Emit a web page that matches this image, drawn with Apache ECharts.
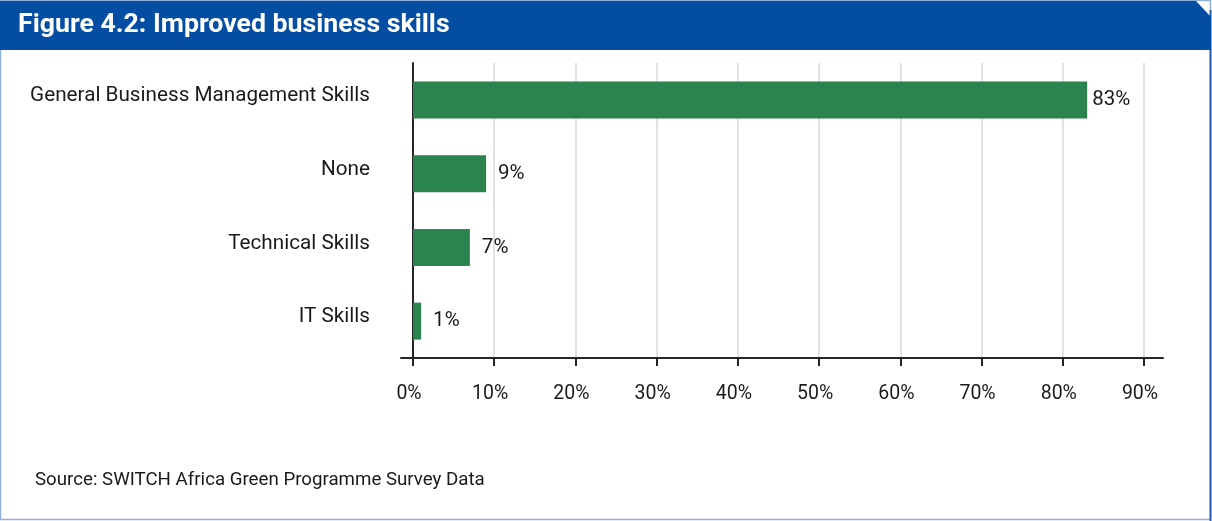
<!DOCTYPE html>
<html>
<head>
<meta charset="utf-8">
<title>Figure 4.2: Improved business skills</title>
<script src="https://cdn.jsdelivr.net/npm/echarts@6/dist/echarts.min.js"></script>
<style>
  html, body { margin: 0; padding: 0; background: #ffffff; }
  #chart { width: 1212px; height: 521px; }
</style>
</head>
<body>
<div id="chart"></div>
<script>
// Survey answers: which business skills improved
const categories = [
  'General Business Management Skills',
  'None',
  'Technical Skills',
  'IT Skills'
];
const shares = [83, 9, 7, 1];          // percent of respondents
const tickValues = [0, 10, 20, 30, 40, 50, 60, 70, 80, 90];

const titleText = 'Figure 4.2: Improved business skills';
const sourceText = 'Source: SWITCH Africa Green Programme Survey Data';

const BLUE = '#034ea2';
const GREEN = '#2b844e';
const INK = '#1a1a1a';
const AXIS = '#262626';
const FONT = 'Roboto, "Noto Sans", sans-serif';

const chart = echarts.init(document.getElementById('chart'), null, { renderer: 'canvas' });

const barData = shares.map((v, i) => ({
  value: v,
  label: i === 0 ? { distance: 5 } : undefined
}));

const option = {
  backgroundColor: '#ffffff',
  animation: false,
  graphic: [
    // card outline
    {
      type: 'rect', z: 0, silent: true,
      shape: { x: 0.5, y: 0.5, width: 1210, height: 519 },
      style: { fill: '#ffffff', stroke: '#8fb2dc', lineWidth: 1.5 }
    },
    {
      type: 'line', z: 1, silent: true,
      shape: { x1: 1210.5, y1: 10, x2: 1210.5, y2: 521 },
      style: { stroke: '#2a5fa8', lineWidth: 2 }
    },
    // header band with clipped top-right corner
    {
      type: 'polygon', z: 2, silent: true,
      shape: { points: [[0, 1], [1196, 1], [1211, 17], [1211, 50], [0, 50]] },
      style: { fill: BLUE }
    },
    {
      type: 'text', z: 3, silent: true,
      left: 18, top: 12,
      style: {
        text: titleText,
        fill: '#ffffff',
        font: 'bold 26.7px ' + FONT
      }
    },
    {
      type: 'text', z: 3, silent: true,
      left: 35, top: 471,
      style: {
        text: sourceText,
        fill: INK,
        font: '18.7px ' + FONT
      }
    }
  ],
  grid: [
    { left: 413, right: 68, top: 63, bottom: 163, containLabel: false },
    { left: 401, right: 49, top: 63, bottom: 163, containLabel: false }
  ],
  xAxis: [
    {
      type: 'value', gridIndex: 0,
      min: tickValues[0], max: tickValues[tickValues.length - 1], interval: 10,
      axisLine: { show: false },
      axisTick: { show: true, length: 8, lineStyle: { color: AXIS, width: 2 } },
      splitLine: { show: true, lineStyle: { color: '#d9d9d9', width: 1.5 } },
      axisLabel: {
        color: INK, fontFamily: FONT, fontSize: 19.5, margin: 26,
        padding: [0, 8, 0, 0],
        formatter: v => v + '%'
      }
    },
    {
      // long baseline running past both ends of the value range
      type: 'value', gridIndex: 1, min: 0, max: 1,
      axisLine: { show: true, onZero: false, lineStyle: { color: AXIS, width: 2 } },
      axisTick: { show: false },
      axisLabel: { show: false },
      splitLine: { show: false }
    }
  ],
  yAxis: [
    {
      type: 'category', gridIndex: 0, data: categories, inverse: true,
      axisLine: { show: true, lineStyle: { color: AXIS, width: 2 } },
      axisTick: { show: false },
      axisLabel: {
        color: INK, fontFamily: FONT, fontSize: 20.7, margin: 43,
        verticalAlign: 'bottom', lineHeight: 8
      }
    },
    {
      type: 'value', gridIndex: 1, show: false
    }
  ],
  series: [
    {
      type: 'bar',
      xAxisIndex: 0, yAxisIndex: 0,
      data: barData,
      barWidth: 37,
      itemStyle: { color: GREEN },
      label: {
        show: true, position: 'right', distance: 12,
        color: INK, fontFamily: FONT, fontSize: 20.5,
        formatter: p => p.value + '%'
      }
    }
  ]
};

chart.setOption(option);
</script>
</body>
</html>
